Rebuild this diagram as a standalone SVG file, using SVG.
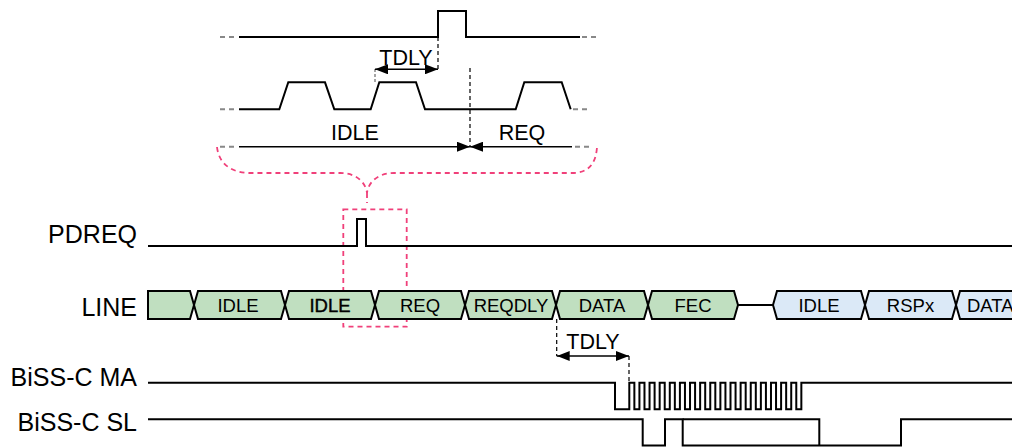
<svg xmlns="http://www.w3.org/2000/svg" width="1012" height="448" viewBox="0 0 1012 448">
<defs>
<style>
.sig{fill:none;stroke:#000;stroke-width:2;stroke-linejoin:miter}
.gd{fill:none;stroke:#888;stroke-width:2;stroke-dasharray:5,4}
.bd{fill:none;stroke:#000;stroke-width:1.2;stroke-dasharray:4,3}
.pk{fill:none;stroke:#f0407a;stroke-width:1.8;stroke-dasharray:5,4}
.arr{fill:none;stroke:#000;stroke-width:1.5}
.g{fill:#c0dfc0;stroke:#000;stroke-width:2}
.b{fill:#dbe9f7;stroke:#000;stroke-width:2}
.lbl{font-family:"Liberation Sans",Arial,sans-serif;font-size:25px;fill:#000;text-anchor:end}
.tl{font-family:"Liberation Sans",Arial,sans-serif;font-size:21.5px;fill:#000;text-anchor:middle}
.bt{font-family:"Liberation Sans",Arial,sans-serif;font-size:18.5px;fill:#000;text-anchor:middle}
</style>
<marker id="ah" markerUnits="userSpaceOnUse" markerWidth="13" markerHeight="10" refX="13" refY="5" orient="auto-start-reverse">
<path d="M0,0 L13,5 L0,10 Z" fill="#000"/>
</marker>
</defs>

<g id="zoom-detail">
<path class="gd" d="M220,37 H236 M582,37 H598"/>
<path class="sig" d="M239,37 H438 V11 H466 V37 H580"/>
<path class="gd" d="M220,109.3 H235 M573,109.3 H590"/>
<path class="sig" d="M239,109.3 H279.3 L288.3,82.3 H325 L334.3,109.3 H370.7 L379.3,82.3 H416 L425,109.3 H515.7 L524.3,82.3 H561.7 L570.7,109.3"/>
<path class="bd" d="M438,37 V69"/>
<path class="gd" d="M375,69 V82" style="stroke-width:1.5;stroke-dasharray:3,2"/>
<line class="arr" x1="375" y1="69.3" x2="438" y2="69.3" marker-start="url(#ah)" marker-end="url(#ah)"/>
<text class="tl" x="406" y="65">TDLY</text>
<path class="bd" d="M470,68 V147"/>
<path class="gd" d="M220,146.7 H235 M575,146.7 H590"/>
<line class="arr" x1="239" y1="146.7" x2="470" y2="146.7" marker-end="url(#ah)"/>
<line class="arr" x1="572" y1="146.7" x2="470" y2="146.7" marker-end="url(#ah)"/>
<text class="tl" x="355" y="140">IDLE</text>
<text class="tl" x="522" y="140">REQ</text>
<path class="pk" d="M217,147 C219,165 233,173 250,173 L340,173 C358,173 366,184 367,193 C368,184 376,173 394,173 L572,173 C589,173 596,163 597,147 M367,193 L367,203"/>
<rect class="pk" x="343.3" y="209.3" width="63.4" height="117.4"/>
</g>

<g id="pdreq">
<text class="lbl" x="137" y="243">PDREQ</text>
<path class="sig" d="M148,246 H357 V219 H366 V246 H1012"/>
</g>

<g id="line">
<text class="lbl" x="137" y="316">LINE</text>
<path class="g" d="M148,291 H190 L194,305 L190,319 H148 Z"/>
<path class="g" d="M194,305 L198,291 H281 L285,305 L281,319 H198 Z"/>
<text class="bt" x="238" y="312">IDLE</text>
<path class="g" d="M285,305 L289,291 H371 L375,305 L371,319 H289 Z"/>
<text class="bt" x="330" y="312" style="stroke:#000;stroke-width:0.4">IDLE</text>
<path class="g" d="M375,305 L379,291 H461 L465,305 L461,319 H379 Z"/>
<text class="bt" x="420" y="312">REQ</text>
<path class="g" d="M465,305 L469,291 H552 L556,305 L552,319 H469 Z"/>
<text class="bt" x="511" y="312">REQDLY</text>
<path class="g" d="M556,305 L560,291 H644 L648,305 L644,319 H560 Z"/>
<text class="bt" x="602" y="312">DATA</text>
<path class="g" d="M648,305 L652,291 H734 L738,305 L734,319 H652 Z"/>
<text class="bt" x="693" y="312">FEC</text>
<path class="sig" d="M738,305 H773"/>
<path class="b" d="M773,305 L777,291 H861 L865,305 L861,319 H777 Z"/>
<text class="bt" x="819" y="312">IDLE</text>
<path class="b" d="M865,305 L869,291 H952 L956,305 L952,319 H869 Z"/>
<text class="bt" x="910.5" y="312">RSPx</text>
<path class="b" d="M956,305 L960,291 H1020 V319 H960 Z"/>
<text class="bt" x="967" y="312" style="text-anchor:start">DATA</text>
</g>

<g id="tdly-lower">
<path class="bd" d="M556.7,319 V356 M629,356 V381"/>
<line class="arr" x1="556.7" y1="356" x2="629" y2="356" marker-start="url(#ah)" marker-end="url(#ah)"/>
<text class="tl" x="593" y="349">TDLY</text>
</g>

<g id="biss-ma">
<text class="lbl" x="137" y="386">BiSS-C MA</text>
<path class="sig" d="M148,382.7 H615 V409.3 H629.3 V382.7 h5.06v26.6h5.06v-26.6 h5.06v26.6h5.06v-26.6 h5.06v26.6h5.06v-26.6 h5.06v26.6h5.06v-26.6 h5.06v26.6h5.06v-26.6 h5.06v26.6h5.06v-26.6 h5.06v26.6h5.06v-26.6 h5.06v26.6h5.06v-26.6 h5.06v26.6h5.06v-26.6 h5.06v26.6h5.06v-26.6 h5.06v26.6h5.06v-26.6 h5.06v26.6h5.06v-26.6 h5.06v26.6h5.06v-26.6 h5.06v26.6h5.06v-26.6 h5.06v26.6h5.06v-26.6 h5.06v26.6h5.06v-26.6 h5.06v26.6h5.06v-26.6 H1012"/>
</g>

<g id="biss-sl">
<text class="lbl" x="137" y="431">BiSS-C SL</text>
<path class="sig" d="M148,419.3 H642.7 V445.5 H665 V419.3 H682.7 V445.5 H901 V419.3 H1012"/>
<path class="sig" d="M682.7,419.3 H819.3 V445.5"/>
</g>
</svg>
